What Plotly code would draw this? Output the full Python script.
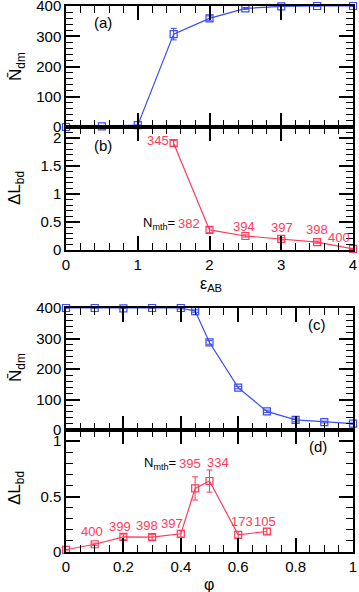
import plotly.graph_objects as go

# ---- data ----
eps_ab = [0, 0.5, 1, 1.5, 2, 2.5, 3, 3.5, 4]
ndm_eps = [0, 2, 6, 307, 359, 392, 399, 400, 400]
ndm_eps_err = [0, 0, 0, 19, 8, 3, 0, 0, 0]

eps_b = [1.5, 2, 2.5, 3, 3.5, 4]
dl_eps = [1.91, 0.36, 0.25, 0.20, 0.14, 0.02]
dl_eps_err = [0.05, 0.05, 0.02, 0.02, 0.02, 0.01]
nmth_eps = ["345", "382", "394", "397", "398", "400"]

phi = [0, 0.1, 0.2, 0.3, 0.4, 0.45, 0.5, 0.6, 0.7, 0.8, 0.9, 1.0]
ndm_phi = [400, 400, 399, 400, 400, 390, 287, 139, 61, 33, 26, 21]
ndm_phi_err = [0, 0, 0, 0, 3, 4, 6, 4, 4, 6, 3, 2]

phi_d = [0, 0.1, 0.2, 0.3, 0.4, 0.45, 0.5, 0.6, 0.7]
dl_phi = [0.02, 0.07, 0.136, 0.134, 0.164, 0.573, 0.64, 0.155, 0.185]
dl_phi_err = [0.0, 0.01, 0.025, 0.025, 0.03, 0.105, 0.1, 0.03, 0.025]
nmth_phi = ["", "400", "399", "398", "397", "395", "334", "173", "105"]

BLUE = "#3a4cf2"
RED = "#ff3a5a"
FONT = "Liberation Sans"
W, H = 359, 592
L, R = 66, 6
PW = W - L - R

def yd(top, bot):
    return [1 - bot / H, 1 - top / H]

fig = go.Figure()

def add(x, y, err, color, xa, ya):
    fig.add_trace(go.Scatter(
        x=x, y=y, mode="lines+markers", xaxis=xa, yaxis=ya,
        line=dict(color=color, width=1.2),
        marker=dict(symbol="square-open", size=7, color=color, line=dict(width=1.2)),
        error_y=dict(type="data", array=err, color=color, thickness=1, width=3),
        showlegend=False, cliponaxis=False))

add(eps_ab, ndm_eps, ndm_eps_err, BLUE, "x", "y")
add(eps_b, dl_eps, dl_eps_err, RED, "x2", "y2")
add(phi, ndm_phi, ndm_phi_err, BLUE, "x3", "y3")
add(phi_d, dl_phi, dl_phi_err, RED, "x4", "y4")

ax_common = dict(showline=True, linecolor="black", linewidth=1.5, mirror="allticks",
                 ticks="inside", ticklen=14, tickwidth=1.5, tickcolor="black",
                 showgrid=False, zeroline=False, automargin=False,
                 ticklabeloverflow="allow",
                 tickfont=dict(family=FONT, size=15, color="black"))

def minor(d):
    return dict(dtick=d, ticks="inside", ticklen=7, tickwidth=1.2, tickcolor="black", showgrid=False)

doms = [yd(6, 127), yd(127, 250), yd(308, 430), yd(430, 552)]

fig.update_layout(
    width=W, height=H, margin=dict(l=L, r=R, t=0, b=0, autoexpand=False),
    paper_bgcolor="white", plot_bgcolor="white",
    xaxis=dict(**ax_common, domain=[0, 1], anchor="y", range=[0, 4], dtick=1, minor=minor(0.2), showticklabels=False),
    yaxis=dict(**ax_common, domain=doms[0], anchor="x", range=[0, 400], dtick=100, minor=minor(20)),
    xaxis2=dict(**ax_common, domain=[0, 1], anchor="y2", range=[0, 4], dtick=1, minor=minor(0.2)),
    yaxis2=dict(**ax_common, domain=doms[1], anchor="x2", range=[0, 2.2], dtick=0.5, minor=minor(0.1)),
    xaxis3=dict(**ax_common, domain=[0, 1], anchor="y3", range=[0, 1], dtick=0.2, minor=minor(0.05), showticklabels=False),
    yaxis3=dict(**ax_common, domain=doms[2], anchor="x3", range=[0, 400], dtick=100, minor=minor(20)),
    xaxis4=dict(**ax_common, domain=[0, 1], anchor="y4", range=[0, 1], dtick=0.2, minor=minor(0.05)),
    yaxis4=dict(**ax_common, domain=doms[3], anchor="x4", range=[0, 1.1], dtick=0.5, minor=minor(0.1)),
)

def px_x(p):
    return (p - L) / PW

def px_y(p):
    return 1 - p / H

def note(text, x, y, size=14, color="black", angle=0, xanchor="center"):
    fig.add_annotation(text=text, xref="paper", yref="paper", x=px_x(x), y=px_y(y),
                       showarrow=False, textangle=angle, xanchor=xanchor, yanchor="middle",
                       font=dict(family=FONT, size=size, color=color))

# panel letters
note("(a)", 103, 23, 15)
note("(b)", 103, 145, 15)
note("(c)", 317, 324, 15)
note("(d)", 318, 446, 15)

# axis titles
note("N\u0304<sub>dm</sub>", 17, 66, 17, angle=-90)
note("\u0394L<sub>bd</sub>", 16, 188, 17, angle=-90)
note("N\u0304<sub>dm</sub>", 17, 367, 17, angle=-90)
note("\u0394L<sub>bd</sub>", 16, 488, 17, angle=-90)
note("\u03b5<sub>AB</sub>", 211, 285, 16)
note("\u03c6", 209, 584, 16)

# N_mth labels, panel (b)
lab_b = [(158, 140), (189, 223), (244, 226), (282, 228), (317, 230), (339, 238)]
for t, (x, y) in zip(nmth_eps, lab_b):
    note(t, x, y, 13, RED)
note("N<sub>mth</sub>=", 177, 223, 13, "black", xanchor="right")

# N_mth labels, panel (d)
lab_d = [None, (92, 531), (120, 526), (147, 525), (172, 523), (190, 463), (218, 462), (242, 521), (265, 521)]
for t, pos in zip(nmth_phi, lab_d):
    if pos is None:
        continue
    note(t, pos[0], pos[1], 13, RED)
note("N<sub>mth</sub>=", 178, 463, 13, "black", xanchor="right")

fig.write_html("out.html", config={"displayModeBar": False},
               post_script="document.body.style.margin='0';document.body.style.overflow='hidden';")
